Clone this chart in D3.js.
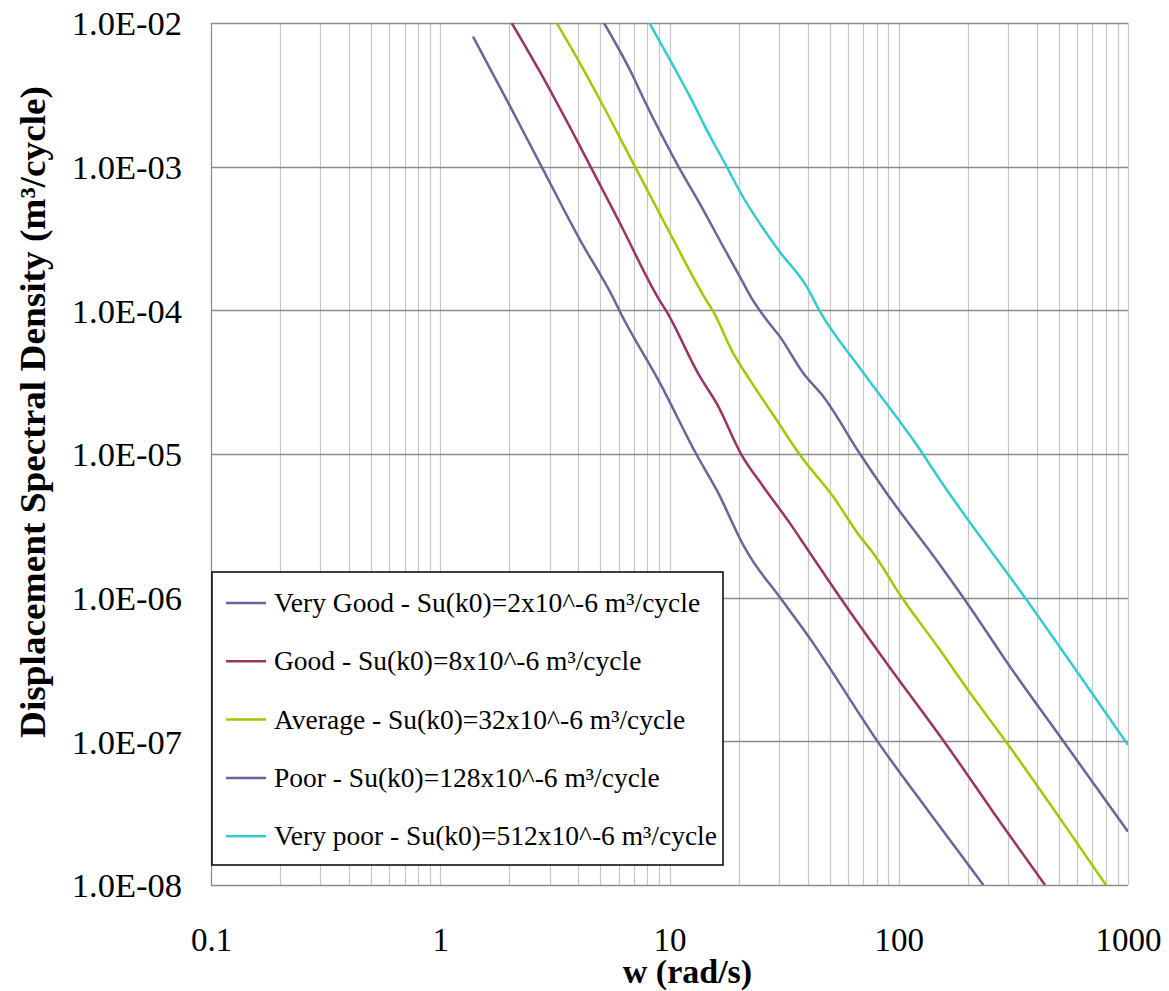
<!DOCTYPE html>
<html>
<head>
<meta charset="utf-8">
<script src="https://cdn.jsdelivr.net/npm/d3@7"></script>
<style>
  html, body { margin: 0; padding: 0; background: #fff; }
  svg { display: block; }
  text { font-family: "Liberation Serif", "Times New Roman", serif; }
</style>
</head>
<body>
<svg id="chart" width="1169" height="991"></svg>
<script>
// ---- data ----
const seriesNames = [
  "Very Good - Su(k0)=2x10^-6 m³/cycle",
  "Good - Su(k0)=8x10^-6 m³/cycle",
  "Average - Su(k0)=32x10^-6 m³/cycle",
  "Poor - Su(k0)=128x10^-6 m³/cycle",
  "Very poor - Su(k0)=512x10^-6 m³/cycle"
];
const seriesColors = ["#666699", "#993366", "#99CC00", "#666699", "#33CCCC"];

const veryGoodW = [1.39, 2.02, 2.72, 4.07, 5.69, 6.08, 9.09, 13.15, 16.06, 21.35, 22.45, 30.3, 42.4, 50.1, 80.1, 136.8, 234];
const veryGoodS = [8.03e-3, 2.62e-3, 1.055e-3, 3.09e-4, 1.213e-4, 9.78e-5, 3.11e-5, 9.84e-6, 5.62e-6, 2.21e-6, 1.93e-6, 1.006e-6, 4.81e-7, 3.22e-7, 1.02e-7, 3.16e-8, 1.0e-8];

const goodW = [2.05, 2.72, 3.94, 6.08, 8.94, 9.72, 13.58, 16.06, 20.64, 25.66, 33.54, 39.68, 55.4, 88.6, 159.1, 285.8, 434.5];
const goodS = [1.0e-2, 4.58e-3, 1.53e-3, 4.04e-4, 1.213e-4, 9.78e-5, 3.45e-5, 2.25e-5, 9.84e-6, 5.92e-6, 3.29e-6, 2.21e-6, 1.006e-6, 3.49e-7, 9.78e-8, 2.55e-8, 1.0e-8];

const averageW = [3.22, 4.07, 4.98, 6.95, 10.05, 14.29, 15.53, 18.98, 22.45, 29.35, 37.1, 51.8, 67.8, 77.4, 103, 151.4, 197.9, 295.8, 505, 801.7];
const averageS = [1.0e-2, 5.24e-3, 2.91e-3, 1.055e-3, 3.44e-4, 1.213e-4, 9.78e-5, 5.02e-5, 3.27e-5, 1.72e-5, 9.84e-6, 5.04e-6, 2.66e-6, 2.04e-6, 1.006e-6, 4.32e-7, 2.34e-7, 9.78e-8, 2.91e-8, 1.0e-8];

const poorW = [5.18, 6.95, 7.69, 10.75, 14.05, 17.16, 20.3, 22.84, 26.55, 30.3, 38.35, 46.87, 67.8, 88.6, 151.4, 194.5, 305.7, 505, 1000];
const poorS = [1.0e-2, 4.23e-3, 2.99e-3, 1.055e-3, 4.99e-4, 2.77e-4, 1.71e-4, 1.213e-4, 8.57e-5, 6.56e-5, 3.65e-5, 2.51e-5, 1.0e-5, 5.33e-6, 1.69e-6, 9.64e-7, 3.31e-7, 1.08e-7, 2.35e-8];

const veryPoorW = [8.17, 10.05, 13.15, 14.05, 17.76, 20.3, 29.83, 39.68, 45.35, 67.8, 123.8, 151.4, 361.4, 1000];
const veryPoorS = [1.0e-2, 5.53e-3, 2.48e-3, 2.0e-3, 1.0e-3, 6.69e-4, 2.63e-4, 1.46e-4, 9.78e-5, 3.95e-5, 1.07e-5, 6.59e-6, 9.64e-7, 9.43e-8];

const xTickValues = [0.1, 1, 10, 100, 1000];
const xTickLabels = ["0.1", "1", "10", "100", "1000"];
const yTickValues = [1e-8, 1e-7, 1e-6, 1e-5, 1e-4, 1e-3, 1e-2];
const yTickLabels = ["1.0E-08", "1.0E-07", "1.0E-06", "1.0E-05", "1.0E-04", "1.0E-03", "1.0E-02"];

const xTitle = "w (rad/s)";
const yTitle = "Displacement Spectral Density (m³/cycle)";

// ---- layout ----
const plot = { left: 211, right: 1128, top: 23, bottom: 885 };
const serif = "Liberation Serif, Times New Roman, serif";

const svg = d3.select("#chart");
const x = d3.scaleLog().domain([0.1, 1000]).range([plot.left, plot.right]);
const y = d3.scaleLog().domain([1e-8, 1e-2]).range([plot.bottom, plot.top]);

// vertical minor gridlines
svg.append("g").selectAll("line")
  .data(x.ticks().filter(d => d > 0.1 * 1.0001))
  .join("line")
  .attr("x1", d => Math.round(x(d)) + 0.5).attr("x2", d => Math.round(x(d)) + 0.5)
  .attr("y1", plot.top).attr("y2", plot.bottom)
  .attr("stroke", "#c6c6c6").attr("stroke-width", 1.2);

// horizontal major gridlines
svg.append("g").selectAll("line")
  .data(yTickValues)
  .join("line")
  .attr("x1", plot.left).attr("x2", plot.right)
  .attr("y1", d => Math.round(y(d)) + 0.5).attr("y2", d => Math.round(y(d)) + 0.5)
  .attr("stroke", "#8c8c8c").attr("stroke-width", 1.3);

// vertical axis line
svg.append("line").attr("x1", plot.left + 0.5).attr("x2", plot.left + 0.5)
  .attr("y1", plot.top).attr("y2", plot.bottom + 0.5)
  .attr("stroke", "#8c8c8c").attr("stroke-width", 1.3);

// axes (labels only)
const yAxis = svg.append("g")
  .attr("transform", `translate(${plot.left},0)`)
  .call(d3.axisLeft(y).tickValues(yTickValues).tickFormat((d, i) => yTickLabels[i]).tickSize(0).tickPadding(29));
yAxis.select(".domain").remove();
yAxis.attr("font-family", serif);
yAxis.selectAll("text").style("font-family", serif).attr("font-size", 34.5).attr("fill", "#000").attr("dy", "0.34em");

const xAxis = svg.append("g")
  .attr("transform", `translate(0,${plot.bottom})`)
  .call(d3.axisBottom(x).tickValues(xTickValues).tickFormat((d, i) => xTickLabels[i]).tickSize(0).tickPadding(43));
xAxis.select(".domain").remove();
xAxis.attr("font-family", serif);
xAxis.selectAll("text").style("font-family", serif).attr("font-size", 33).attr("fill", "#000");

// series lines
const seriesW = [veryGoodW, goodW, averageW, poorW, veryPoorW];
const seriesS = [veryGoodS, goodS, averageS, poorS, veryPoorS];
svg.append("clipPath").attr("id", "clip").append("rect")
  .attr("x", plot.left).attr("y", plot.top)
  .attr("width", plot.right - plot.left).attr("height", plot.bottom - plot.top);
const line = d3.line().x(d => x(d[0])).y(d => y(d[1])).curve(d3.curveMonotoneX);
const lines = svg.append("g").attr("clip-path", "url(#clip)");
seriesW.forEach((ws, i) => {
  lines.append("path")
    .datum(ws.map((w, j) => [w, seriesS[i][j]]))
    .attr("d", line)
    .attr("fill", "none")
    .attr("stroke", seriesColors[i])
    .attr("stroke-width", 2.5)
    .attr("stroke-linejoin", "round");
});

// legend
const legend = svg.append("g");
legend.append("rect")
  .attr("x", 212).attr("y", 572).attr("width", 511).attr("height", 293)
  .attr("fill", "#fff").attr("stroke", "#000").attr("stroke-width", 1.5);
const legendY0 = 603, legendStep = 58.3;
seriesNames.forEach((name, i) => {
  const ly = legendY0 + i * legendStep;
  legend.append("line").attr("x1", 226).attr("x2", 266).attr("y1", ly).attr("y2", ly)
    .attr("stroke", seriesColors[i]).attr("stroke-width", 2.5);
  legend.append("text").attr("x", 274).attr("y", ly).attr("dy", "0.33em")
    .style("font-family", serif).attr("font-size", 27.5).attr("fill", "#000")
    .text(name);
});

// axis titles
svg.append("text")
  .attr("x", 687.5).attr("y", 983)
  .attr("text-anchor", "middle")
  .style("font-family", serif).attr("font-size", 34).attr("font-weight", "bold")
  .text(xTitle);

svg.append("text")
  .attr("transform", "translate(45,412) rotate(-90)")
  .attr("text-anchor", "middle")
  .attr("textLength", 652).attr("lengthAdjust", "spacingAndGlyphs")
  .style("font-family", serif).attr("font-size", 36).attr("font-weight", "bold")
  .text(yTitle);
</script>
</body>
</html>
